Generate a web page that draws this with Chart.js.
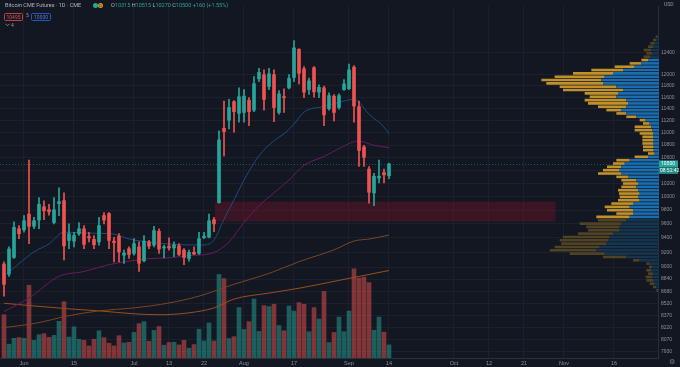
<!DOCTYPE html>
<html>
<head>
<meta charset="utf-8">
<script src="https://cdn.jsdelivr.net/npm/chart.js@4.4.0/dist/chart.umd.min.js"></script>
<style>
  html, body { margin: 0; padding: 0; background: #131722; overflow: hidden; }
  #wrap { position: relative; width: 680px; height: 367px; font-family: Roboto, "Noto Sans", sans-serif; }
  #mainBox { position: absolute; left: 0; top: 0; width: 680px; height: 367px; }
  #vpBox { position: absolute; left: 0; top: 35px; width: 659px; height: 257px; pointer-events: none; }
  .t { position: absolute; white-space: nowrap; font-size: 5.5px; line-height: 7px; color: #b2b5be; }
  .dot { position: absolute; width: 5px; height: 5px; border-radius: 50%; }
  .bx { position: absolute; height: 6px; line-height: 6px; border-radius: 1.5px; font-size: 5px; text-align: center; }
  .ohlc b { font-weight: normal; color: #b2b5be; }
  .ohlc i { font-style: normal; color: #26a69a; }
</style>
</head>
<body>
<div id="wrap">
  <div id="mainBox"><canvas id="mainChart"></canvas></div>
  <div id="vpBox"><canvas id="vpChart"></canvas></div>

  <div class="t" style="left:5px;top:2px;">Bitcoin CME Futures · 1D · CME</div>
  <div class="dot" style="left:93px;top:3px;background:#22ab94;"></div>
  <div class="dot" style="left:98px;top:3px;background:#d99a2b;font-size:4px;line-height:5px;text-align:center;color:#3b2a08;">D</div>
  <div class="t ohlc" style="left:111px;top:2px;"><b>O</b><i>10315</i> <b>H</b><i>10515</i> <b>L</b><i>10270</i> <b>C</b><i>10500</i> <i>+160 (+1.55%)</i></div>

  <div class="bx" style="left:4px;top:12.5px;width:17px;border:0.8px solid #c0413f;color:#e05250;">10495</div>
  <div class="t" style="left:26px;top:12px;font-size:5px;color:#9598a1;">5</div>
  <div class="bx" style="left:31px;top:12.5px;width:18px;border:0.8px solid #2255c8;color:#4a7ee8;">10500</div>

  <svg style="position:absolute;left:5px;top:23px;" width="5" height="4"><polyline points="0.5,0.8 2.5,2.8 4.5,0.8" fill="none" stroke="#9598a1" stroke-width="0.8"/></svg>
  <div class="t" style="left:11px;top:21.5px;font-size:5px;color:#9598a1;">4</div>

  <div class="t" style="left:664px;top:1px;font-size:5px;color:#9598a1;">USD</div>
  <div class="t" style="left:669px;top:358px;font-size:7px;line-height:9px;color:#787b86;">⚙</div>
</div>

<script>
// ── Data ────────────────────────────────────────────────────────
// Daily candles, index 0 = 26 May 2020, index 77 = 14 Sep 2020
const OPEN  = [9040, 8905, 9130, 9530, 9515, 9740, 9565, 9655, 9850, 9805,
               9620, 9895, 9940, 9365, 9355, 9460, 9530, 9420, 9380, 9345,
               9720, 9750, 9355, 9425, 9160, 9250, 9185, 9275, 9085, 9345,
               9300, 9495, 9260, 9285, 9260, 9290, 9230, 9115, 9200, 9185,
               9405, 9410, 9660, 9910, 11075, 11210, 11525, 11325, 11340, 11550,
               11380, 11925, 12000, 11790, 12000, 11340, 11605, 11765, 11950, 12465,
               12105, 11735, 12125, 11690, 11765, 11405, 11620, 11425, 11735, 11750,
               12135, 11440, 10770, 10420, 10055, 10280, 10365, 10315];
const HIGH  = [9070, 9275, 9630, 9575, 9720, 10560, 9695, 9985, 9935, 9885,
               9985, 10130, 10055, 9600, 9480, 9620, 9575, 9480, 9435, 9695,
               9765, 9765, 9410, 9460, 9230, 9275, 9390, 9345, 9435, 9365,
               9565, 9530, 9300, 9400, 9345, 9320, 9250, 9230, 9275, 9480,
               9480, 9740, 9695, 11035, 11535, 11565, 11545, 11765, 11735, 11595,
               11965, 12115, 12085, 12115, 12085, 11720, 11750, 12000, 12630, 12475,
               12145, 11940, 12145, 11820, 11795, 11680, 11650, 11660, 11910, 12190,
               12165, 11535, 10795, 10460, 10355, 10560, 10420, 10515];
const LOW   = [8615, 8875, 9115, 9390, 9480, 9320, 9530, 9530, 9660, 9725,
               9600, 9720, 9095, 9250, 9275, 9435, 9250, 9345, 9250, 9300,
               9600, 9250, 9070, 9070, 9050, 9115, 9160, 8940, 9070, 9250,
               9275, 9185, 9125, 9230, 9140, 9155, 9030, 9080, 9170, 9170,
               9390, 9400, 9490, 9900, 10625, 11065, 11010, 11175, 11175, 11120,
               11355, 11875, 11380, 11735, 11185, 11310, 11340, 11745, 11875, 11835,
               11595, 11650, 11605, 11595, 11120, 11380, 11200, 11395, 11720, 11735,
               11175, 10460, 10460, 9900, 9865, 10205, 10205, 10270];
const CLOSE = [8770, 9245, 9550, 9460, 9645, 9565, 9645, 9885, 9790, 9775,
               9805, 9925, 9290, 9460, 9435, 9530, 9310, 9400, 9305, 9575,
               9655, 9365, 9335, 9205, 9190, 9170, 9320, 9050, 9355, 9285,
               9505, 9245, 9275, 9260, 9305, 9170, 9130, 9200, 9175, 9390,
               9425, 9645, 9600, 10885, 11020, 11425, 11355, 11610, 11620, 11355,
               11840, 12040, 11565, 12015, 11425, 11660, 11595, 11935, 12490, 12025,
               11690, 11890, 11695, 11775, 11300, 11630, 11340, 11630, 11835, 12085,
               11450, 10715, 10605, 10065, 10310, 10310, 10330, 10500];
const VOLUME = [4400, 1400, 2000, 2070, 2000, 7400, 1800, 2370, 2470, 2100,
                2300, 3730, 5730, 2130, 3170, 1900, 1800, 1230, 1900, 2770,
                2070, 1500, 1230, 2270, 1530, 1600, 2600, 3500, 3700, 1700,
                2800, 3200, 1300, 1570, 1600, 1330, 1800, 1000, 1370, 2930,
                1730, 3570, 1730, 8500, 8070, 1970, 2170, 5130, 2900, 3700,
                6000, 2700, 5330, 5230, 5470, 3300, 2770, 5300, 4770, 5630,
                5470, 2670, 5130, 3970, 6770, 1570, 2600, 4170, 2670, 4770,
                9070, 8130, 8230, 7670, 2830, 4170, 2630, 1330];

// moving averages as [bar index, price]
const MA_FAST = [[0, 8875], [3, 9046], [6, 9207], [9, 9316], [12, 9482], [17, 9468], [22, 9454],
                 [25, 9385], [29, 9343], [33, 9316], [37, 9302], [40, 9302], [42, 9371], [44, 9665],
                 [46, 9953], [48, 10250], [49, 10387], [51, 10633], [54, 10871], [56, 10984],
                 [58, 11146], [60, 11346], [64, 11446], [67, 11513], [70, 11564], [71, 11513],
                 [73, 11312], [76, 11097], [77, 10984]];
const MA_MID  = [[0, 8420], [5, 8592], [11, 8875], [16, 8940], [21, 9032], [25, 9079], [29, 9113],
                 [33, 9126], [37, 9153], [42, 9198], [45, 9343], [48, 9622], [51, 9865], [54, 10056],
                 [57, 10250], [60, 10479], [64, 10618], [67, 10744], [70, 10855], [71, 10863],
                 [74, 10796], [77, 10760]];
const MA_100  = [[0, 8221], [6, 8270], [13, 8368], [19, 8429], [26, 8466], [33, 8529], [39, 8617],
                 [46, 8771], [53, 8914], [59, 9072], [66, 9234], [70, 9357], [73, 9385], [77, 9440]];
const MA_200  = [[0, 8525], [6, 8491], [13, 8454], [19, 8429], [26, 8392], [31, 8380], [37, 8404],
                 [42, 8466], [46, 8579], [53, 8656], [59, 8719], [66, 8809], [73, 8901], [77, 8953]];

// time axis: bar index of each label (future bars included)
const X_TICK_POS    = [4, 14, 26, 33, 40, 48, 58, 69, 77, 90, 97, 104, 112, 122];
const X_TICK_LABELS = ['Jun', '15', 'Jul', '13', '22', 'Aug', '17', 'Sep', '14', 'Oct', '12', '21', 'Nov', '16'];

// price axis labels
const Y_TICKS = [12400, 12000, 11800, 11600, 11400, 11200, 11000, 10800, 10600, 10400, 10200,
                 10000, 9800, 9600, 9400, 9200, 9000, 8840, 8680, 8520, 8370, 8220, 8070, 7930];

const LAST_PRICE = 10500;
const COUNTDOWN  = '08:52:42';
const ZONE = { from: 42.2, to: 110.3, low: 9635, high: 9925 };

// volume profile rows (top to bottom), up and down volume per row
const VP_LEVELS = [12600, 12538, 12477, 12416, 12355, 12295, 12235, 12175, 12115, 12056,
                   11997, 11938, 11880, 11822, 11764, 11707, 11649, 11592, 11536, 11479,
                   11423, 11367, 11312, 11257, 11202, 11147, 11093, 11038, 10984, 10931,
                   10877, 10824, 10771, 10719, 10666, 10614, 10562, 10511, 10459, 10408,
                   10357, 10307, 10256, 10206, 10156, 10107, 10057, 10008, 9959, 9911,
                   9862, 9814, 9766, 9718, 9671, 9624, 9577, 9530, 9483, 9437,
                   9391, 9345, 9299, 9254, 9209, 9164, 9119, 9074, 9030, 8986,
                   8942, 8898, 8855, 8811, 8768, 8725, 8683];
const VP_UP   = [40, 80, 130, 180, 230, 200, 260, 330, 530, 730,
                 1080, 1380, 1630, 1730, 1680, 1280, 1080, 1230, 1280, 980,
                 930, 980, 1130, 980, 680, 400, 280, 230, 200, 180,
                 180, 160, 180, 160, 160, 130, 330, 880, 1030, 1130,
                 1180, 1130, 930, 680, 630, 680, 630, 580, 630, 580,
                 780, 880, 780, 780, 880, 980, 1130, 1180, 1180, 1380,
                 1480, 1530, 1580, 1780, 1880, 1630, 980, 580, 280, 200,
                 230, 180, 200, 180, 130, 80, 30];
const VP_DOWN = [60, 100, 130, 150, 230, 180, 200, 200, 350, 600,
                 950, 1200, 1500, 1800, 1700, 1700, 1800, 1000, 800, 1250,
                 1200, 850, 450, 300, 300, 180, 200, 500, 530, 400,
                 320, 340, 320, 320, 320, 200, 400, 400, 350, 430,
                 500, 700, 350, 450, 450, 450, 600, 620, 550, 650,
                 650, 750, 780, 500, 1000, 850, 1250, 1000, 950, 1050,
                 1400, 1450, 1350, 1350, 1400, 1050, 700, 200, 100, 100,
                 150, 150, 200, 200, 150, 100, 50];
const VA_HIGH = 12200, VA_LOW = 9650;

// ── Colors ──────────────────────────────────────────────────────
const UP = '#26a69a', DOWN = '#ef5350';
const GRID = '#1c202c', AXIS = '#2a2e39', TICKS = '#8c909a';
const isUp = i => CLOSE[i] >= OPEN[i];

// ── Overlays drawn through the scales ───────────────────────────
const overlays = {
  id: 'overlays',
  beforeDatasetsDraw(chart) {
    const { ctx, chartArea: a, scales: { x, y } } = chart;
    ctx.save();
    ctx.beginPath(); ctx.rect(a.left, a.top, a.width, a.height); ctx.clip();
    const x0 = x.getPixelForValue(ZONE.from), x1 = x.getPixelForValue(ZONE.to);
    const y0 = y.getPixelForValue(ZONE.high), y1 = y.getPixelForValue(ZONE.low);
    ctx.fillStyle = 'rgba(130,20,38,0.36)';
    ctx.fillRect(x0, y0, x1 - x0, y1 - y0);
    const yl = Math.round(y.getPixelForValue(LAST_PRICE)) + 0.5;
    ctx.setLineDash([1, 2]);
    ctx.strokeStyle = 'rgba(38,166,154,0.45)';
    ctx.lineWidth = 1;
    ctx.beginPath(); ctx.moveTo(a.left, yl); ctx.lineTo(a.right, yl); ctx.stroke();
    ctx.restore();
  },
  afterDraw(chart) {
    const { ctx, chartArea: a, scales: { y } } = chart;
    const yl = y.getPixelForValue(LAST_PRICE);
    ctx.save();
    ctx.fillStyle = UP;
    ctx.fillRect(a.right + 1, yl - 3.5, 19, 7);
    ctx.fillStyle = '#1f8a80';
    ctx.fillRect(a.right + 1, yl + 3.5, 19, 6.5);
    ctx.fillStyle = '#ffffff';
    ctx.font = '5px Roboto, sans-serif';
    ctx.textBaseline = 'middle';
    ctx.fillText(String(LAST_PRICE), a.right + 3, yl + 0.2);
    ctx.fillText(COUNTDOWN, a.right + 2, yl + 6.9);
    ctx.restore();
  }
};

// ── Main price chart ────────────────────────────────────────────
new Chart(document.getElementById('mainChart'), {
  type: 'bar',
  data: {
    datasets: [
      { label: 'Body', data: OPEN.map((o, i) => ({ x: i, y: [o, CLOSE[i]] })),
        backgroundColor: c => isUp(c.dataIndex) ? UP : DOWN,
        barThickness: 3, minBarLength: 1, order: 1 },
      { label: 'Wick', data: LOW.map((l, i) => ({ x: i, y: [l, HIGH[i]] })),
        backgroundColor: c => isUp(c.dataIndex) ? UP : DOWN,
        barThickness: 1, order: 2 },
      { type: 'line', label: 'MA fast', data: MA_FAST.map(p => ({ x: p[0], y: p[1] })),
        borderColor: '#1d4a80', borderWidth: 1, pointRadius: 0, cubicInterpolationMode: 'monotone', order: 4 },
      { type: 'line', label: 'MA mid', data: MA_MID.map(p => ({ x: p[0], y: p[1] })),
        borderColor: '#6a1c5e', borderWidth: 1, pointRadius: 0, cubicInterpolationMode: 'monotone', order: 4 },
      { type: 'line', label: 'MA 100', data: MA_100.map(p => ({ x: p[0], y: p[1] })),
        borderColor: '#7a4620', borderWidth: 1, pointRadius: 0, cubicInterpolationMode: 'monotone', order: 4 },
      { type: 'line', label: 'MA 200', data: MA_200.map(p => ({ x: p[0], y: p[1] })),
        borderColor: '#9a4f1c', borderWidth: 1, pointRadius: 0, cubicInterpolationMode: 'monotone', order: 4 },
      { label: 'Volume', data: VOLUME.map((v, i) => ({ x: i, y: v })), yAxisID: 'yVol',
        backgroundColor: c => isUp(c.dataIndex) ? 'rgba(38,166,154,0.5)' : 'rgba(239,83,80,0.5)',
        barThickness: 4, order: 10 }
    ]
  },
  options: {
    responsive: true,
    maintainAspectRatio: false,
    animation: false,
    layout: { padding: 0 },
    datasets: { bar: { grouped: false } },
    plugins: { legend: { display: false }, tooltip: { enabled: false } },
    scales: {
      x: {
        type: 'linear', min: -0.8, max: 130.8, offset: false,
        afterBuildTicks: s => { s.ticks = X_TICK_POS.map(v => ({ value: v })); },
        afterFit: s => { s.height = 9; s.paddingLeft = 0; s.paddingRight = 0; },
        ticks: { callback: (v, i) => X_TICK_LABELS[i], autoSkip: false, maxRotation: 0,
                 color: TICKS, font: { size: 5.5 }, padding: 2 },
        grid: { color: GRID, drawTicks: false, offset: false },
        border: { color: AXIS }
      },
      y: {
        type: 'logarithmic', position: 'right', min: 7855, max: 13298,
        afterBuildTicks: s => { s.ticks = Y_TICKS.map(v => ({ value: v })); },
        afterFit: s => { s.width = 22; },
        ticks: { callback: v => String(v), autoSkip: false, color: TICKS, font: { size: 5 }, padding: 3 },
        grid: { color: GRID, drawTicks: false },
        border: { color: AXIS }
      },
      yVol: { type: 'linear', display: false, min: 0, max: 35800 }
    }
  },
  plugins: [overlays]
});

// ── Visible range volume profile ────────────────────────────────
const inVA = i => VP_LEVELS[i] <= VA_HIGH && VP_LEVELS[i] >= VA_LOW;
new Chart(document.getElementById('vpChart'), {
  type: 'bar',
  data: {
    labels: VP_LEVELS.map(String),
    datasets: [
      { label: 'Up', data: VP_UP, stack: 'vp',
        backgroundColor: c => inVA(c.dataIndex) ? '#1a6eb0' : '#15354f' },
      { label: 'Down', data: VP_DOWN, stack: 'vp',
        backgroundColor: c => inVA(c.dataIndex) ? '#c0912a' : '#4f4324' }
    ]
  },
  options: {
    indexAxis: 'y',
    responsive: true,
    maintainAspectRatio: false,
    animation: false,
    layout: { padding: 0 },
    datasets: { bar: { barPercentage: 0.78, categoryPercentage: 1 } },
    plugins: { legend: { display: false }, tooltip: { enabled: false } },
    scales: {
      x: { stacked: true, reverse: true, min: 0, max: 19770, display: false },
      y: { stacked: true, display: false }
    }
  }
});
</script>
</body>
</html>
